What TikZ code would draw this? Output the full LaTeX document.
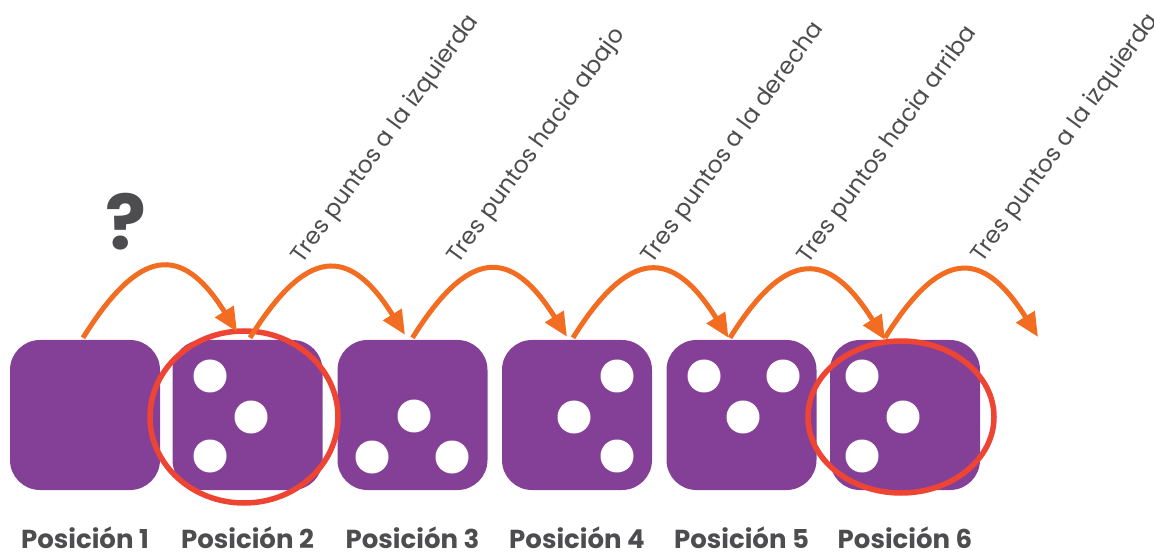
\documentclass[tikz,border=0pt]{standalone}
\usepackage{fontspec}
\setmainfont{Poppins}
\newfontfamily\popbold{Poppins Bold}
\usetikzlibrary{arrows.meta,calc}
\definecolor{dicepurple}{HTML}{844096}
\definecolor{jumporange}{HTML}{F26D21}
\definecolor{ringred}{HTML}{EE4433}
\definecolor{textgrey}{HTML}{4D4D4F}
\tikzset{
  die/.style={fill=dicepurple, rounded corners=30pt, minimum size=150pt, inner sep=0pt},
  pip/.style={fill=white},
  jump/.style={jumporange, line width=5pt, -{Triangle[length=24pt,width=21pt]},
    out=58, in=122, looseness=1.75},
  ring/.style={ringred, line width=5.5pt},
  hint/.style={textgrey, rotate=54, anchor=base west, inner sep=0pt,
    font=\fontsize{23.5}{23.5}\selectfont},
  poslabel/.style={textgrey, anchor=base, inner sep=0pt,
    font=\popbold\fontsize{26}{26}\selectfont}
}

\begin{document}
\begin{tikzpicture}[x=1pt, y=1pt]
\useasboundingbox (0,0) rectangle (1154,552);

  % Define the dice
  \node[die] (d1) at (85,137) {};
  \node[die] (d2) at (247.5,137) {};
  \node[die] (d3) at (412.5,137) {};
  \node[die] (d4) at (577,137) {};
  \node[die] (d5) at (741.5,137) {};
  \node[die] (d6) at (905,137) {};

  % Draw the pips
  \foreach \d/\dx/\dy in {d2/-37.5/39, d2/3.5/-2, d2/-37.5/-41,
    d3/1.5/-1, d3/-40.5/-42, d3/39.5/-42,
    d4/40/39, d4/-3/-2, d4/40/-41,
    d5/-37.5/39, d5/41.5/39, d5/1.5/-2,
    d6/-43/39, d6/-2/-2, d6/-43/-41} {
    \fill[pip] ($(\d)+(\dx,\dy)$) circle (16.5);
  }

  % Draw the rings
  \draw[ring] ($(d2.center)+(-3.5,-2)$) ellipse [x radius=94, y radius=86];
  \draw[ring] ($(d6.center)+(-4,-2)$) ellipse [x radius=93, y radius=76];

  % Draw the jumps
  \coordinate (end) at (1038,215);
  \draw[jump] ($(d1.north)+(-2,2)$) to ($(d2.north)+(-10.5,8)$);
  \draw[jump] ($(d2.north)+(2.5,2)$) to ($(d3.north)+(-7.5,5)$);
  \draw[jump] ($(d3.north)+(0,2)$) to ($(d4.north)+(-10,3)$);
  \draw[jump] ($(d4.north)+(-4,2)$) to ($(d5.north)+(-13,2)$);
  \draw[jump] ($(d5.north)+(-11.5,2)$) to ($(d6.north)+(-20,0)$);
  \draw[jump] ($(d6.north)+(-20,2)$) to (end);

  \node[textgrey, anchor=base, inner sep=0pt, font=\popbold\fontsize{76}{76}\selectfont] (q) at (126,302) {?};

  % Hints
  \node[hint] (h1) at (302,287) {Tres puntos a la izquierda};
  \node[hint] (h2) at (458,287) {Tres puntos hacia abajo};
  \node[hint] (h3) at (652,287) {Tres puntos a la derecha};
  \node[hint] (h4) at (808,287) {Tres puntos hacia arriba};
  \node[hint] (h5) at (982,288) {Tres puntos a la izquierda};

  % Labels
  \foreach \k in {1,...,6} {
    \node[poslabel] (p\k) at ($(d\k.south)+(0,-58)$) {Posición \k};
  }
\end{tikzpicture}
\end{document}
